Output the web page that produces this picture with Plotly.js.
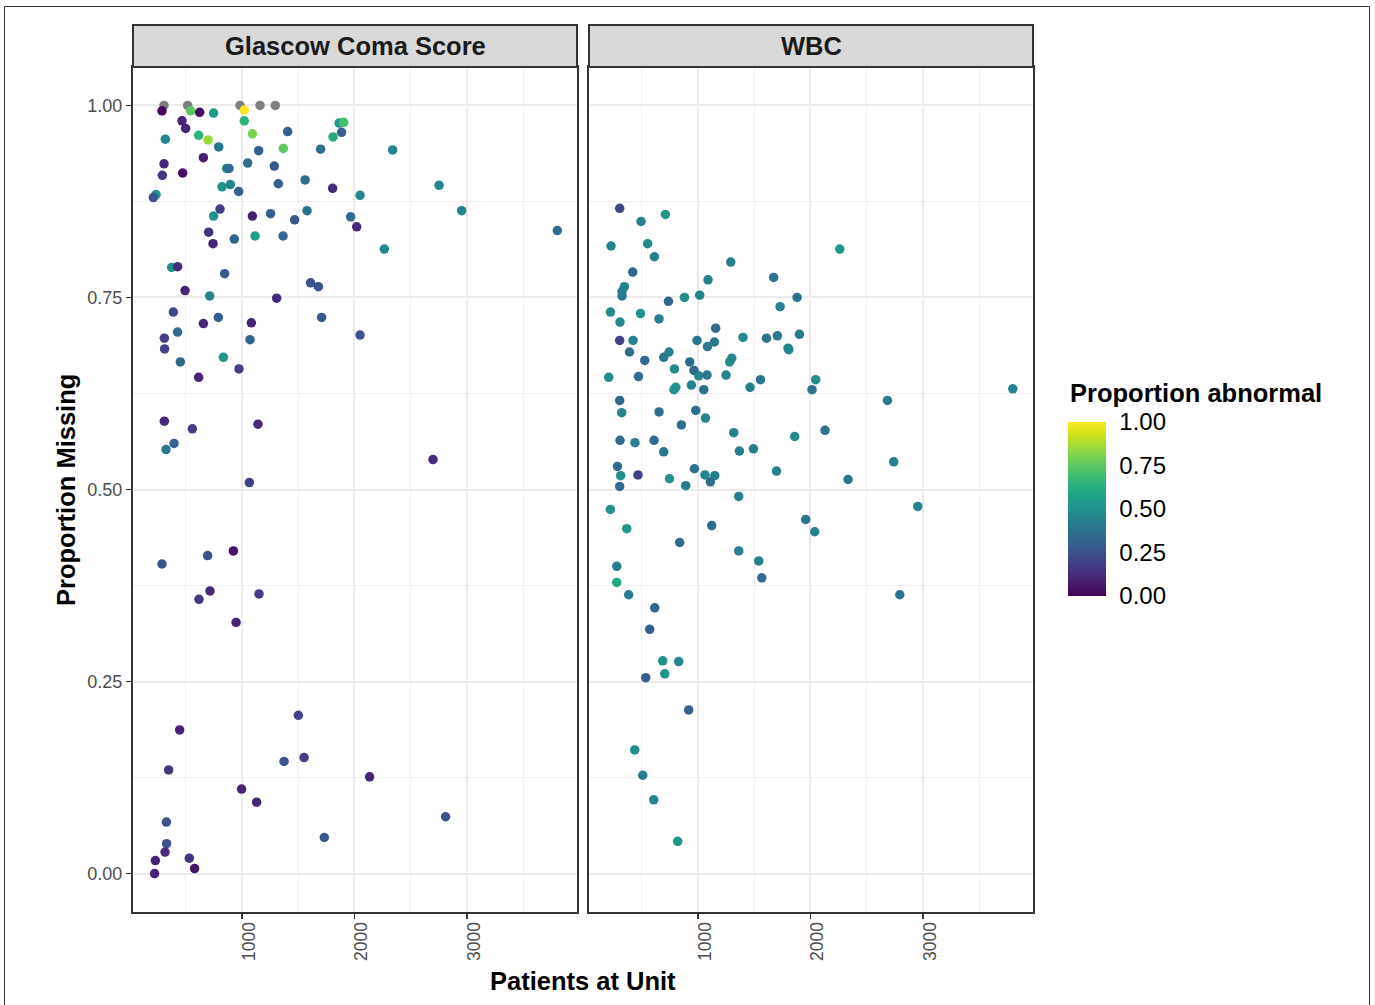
<!DOCTYPE html>
<html>
<head>
<meta charset="utf-8">
<script src="https://cdn.plot.ly/plotly-3.0.1.min.js"></script>
<style>html,body{margin:0;padding:0;background:#fff;}#chart{width:1375px;height:1005px;}</style>
</head>
<body>
<div id="chart"></div>
<script>
// Facet labels
const facetLabels = ["Glascow Coma Score", "WBC"];

// Glascow Coma Score: patients at unit, proportion missing, proportion abnormal
const gcsX = [288,543,623,747,1020,1020,466,498,614,698,1092,1406,318,792,1148,1367,1699,1863,1904,1886,1810,656,306,291,472,1050,1287,863,884,822,896,970,1323,1561,1806,2050,235,211,804,747,1092,1254,1468,1578,703,742,931,1116,1365,374,427,845,1610,1679,2340,2753,2954,1966,2020,2266,3805,493,712,1308,389,789,1708,656,1083,427,309,311,1071,2050,451,834,973,614,309,558,1142,395,324,1065,2699,288,694,923,715,617,1151,947,1501,445,347,1374,1552,996,1130,327,1732,329,315,531,229,222,578,2135,2811];
const gcsY = [0.993,0.993,0.991,0.990,0.994,0.980,0.980,0.970,0.961,0.955,0.963,0.966,0.956,0.946,0.941,0.944,0.943,0.977,0.978,0.965,0.959,0.932,0.924,0.909,0.912,0.925,0.921,0.918,0.918,0.894,0.897,0.888,0.898,0.903,0.892,0.883,0.884,0.880,0.865,0.856,0.856,0.859,0.851,0.863,0.835,0.820,0.826,0.830,0.830,0.789,0.790,0.781,0.769,0.764,0.942,0.896,0.863,0.855,0.842,0.813,0.837,0.759,0.752,0.749,0.731,0.724,0.724,0.716,0.717,0.705,0.697,0.683,0.695,0.701,0.666,0.672,0.657,0.646,0.589,0.579,0.585,0.560,0.552,0.509,0.539,0.403,0.414,0.420,0.368,0.357,0.364,0.327,0.206,0.187,0.135,0.146,0.151,0.110,0.093,0.067,0.047,0.039,0.028,0.020,0.017,0.000,0.0065,0.126,0.074];
const gcsC = [0.02,0.75,0.03,0.55,1.0,0.65,0.10,0.10,0.65,0.85,0.80,0.30,0.45,0.40,0.30,0.75,0.35,0.55,0.70,0.30,0.60,0.08,0.12,0.15,0.03,0.35,0.28,0.45,0.35,0.50,0.45,0.30,0.30,0.35,0.12,0.45,0.50,0.25,0.18,0.50,0.08,0.30,0.25,0.38,0.15,0.10,0.33,0.55,0.33,0.50,0.12,0.28,0.25,0.25,0.45,0.45,0.45,0.35,0.12,0.45,0.35,0.10,0.45,0.12,0.22,0.30,0.28,0.10,0.10,0.35,0.18,0.20,0.33,0.25,0.33,0.52,0.18,0.10,0.12,0.18,0.12,0.30,0.40,0.20,0.12,0.25,0.25,0.05,0.12,0.15,0.18,0.10,0.20,0.10,0.15,0.27,0.18,0.10,0.10,0.25,0.28,0.25,0.12,0.15,0.10,0.10,0.05,0.10,0.25];
// Glascow Coma Score units with no abnormal value available (NA colour)
const gcsNaX = [306,516,982,1160,1296];
const gcsNaY = [1.0,1.0,1.0,1.0,1.0];

// WBC
const wbcX = [303,493,710,226,552,612,1291,2261,419,1089,1673,345,324,324,737,879,1015,1881,1730,221,306,488,653,1157,303,422,991,1084,1146,1400,1609,1706,1902,1801,1807,390,526,695,742,790,926,964,1006,1080,1249,1282,1300,206,470,786,802,941,1051,1463,1555,2047,2014,2685,303,321,653,980,1066,852,1318,1860,2130,306,439,609,695,1368,1493,283,312,466,746,968,891,1062,1149,1110,1698,2335,303,1362,3800,2741,2955,1958,2038,2795,220,366,277,277,383,615,570,837,686,828,704,535,917,437,508,606,819,1122,1362,1540,1567];
const wbcY = [0.866,0.849,0.858,0.817,0.820,0.803,0.796,0.813,0.783,0.773,0.776,0.764,0.758,0.752,0.745,0.750,0.753,0.750,0.738,0.731,0.718,0.729,0.722,0.710,0.694,0.694,0.694,0.686,0.692,0.698,0.697,0.700,0.702,0.684,0.682,0.679,0.668,0.672,0.679,0.657,0.666,0.655,0.648,0.649,0.649,0.666,0.671,0.646,0.647,0.630,0.633,0.636,0.630,0.633,0.643,0.643,0.630,0.616,0.616,0.600,0.601,0.603,0.593,0.584,0.574,0.569,0.577,0.564,0.561,0.564,0.549,0.550,0.553,0.530,0.518,0.519,0.514,0.527,0.505,0.519,0.518,0.510,0.524,0.513,0.504,0.491,0.631,0.536,0.478,0.461,0.445,0.363,0.474,0.449,0.400,0.379,0.363,0.346,0.318,0.431,0.277,0.276,0.260,0.255,0.213,0.161,0.128,0.096,0.042,0.453,0.420,0.407,0.385];
const wbcC = [0.20,0.42,0.52,0.45,0.47,0.42,0.42,0.53,0.33,0.43,0.38,0.45,0.42,0.40,0.33,0.48,0.45,0.38,0.42,0.47,0.47,0.50,0.42,0.35,0.20,0.43,0.40,0.40,0.40,0.47,0.38,0.40,0.40,0.45,0.45,0.35,0.33,0.40,0.43,0.47,0.35,0.33,0.45,0.40,0.45,0.47,0.47,0.47,0.35,0.50,0.50,0.45,0.37,0.43,0.38,0.47,0.38,0.42,0.33,0.45,0.37,0.37,0.45,0.37,0.43,0.48,0.38,0.35,0.43,0.35,0.40,0.42,0.42,0.35,0.50,0.20,0.50,0.37,0.42,0.45,0.43,0.35,0.43,0.40,0.35,0.42,0.43,0.43,0.45,0.38,0.42,0.38,0.50,0.52,0.42,0.60,0.42,0.33,0.30,0.35,0.50,0.45,0.50,0.30,0.30,0.48,0.42,0.45,0.52,0.35,0.42,0.43,0.35];

// Axis ticks
const yTickVals = [0, 0.25, 0.5, 0.75, 1.0];
const yTickText = ["0.00", "0.25", "0.50", "0.75", "1.00"];
const xTickVals = [1000, 2000, 3000];
const xTickText = ["1000", "2000", "3000"];
const cbTickVals = [0, 0.25, 0.5, 0.75, 1.0];
const cbTickText = ["0.00", "0.25", "0.50", "0.75", "1.00"];

const W = 1375, H = 1005;
const px = v => v / W;
const py = v => (H - v) / H;
const FONT = "Liberation Sans, Arial, Helvetica, sans-serif";

const markerBase = {
  size: 9.5,
  colorscale: "Viridis",
  cmin: 0, cmax: 1,
  line: {width: 0}
};

const traces = [
  {
    type: "scatter", mode: "markers", x: gcsNaX, y: gcsNaY, xaxis: "x", yaxis: "y",
    marker: {size: 9.5, color: "#7F7F7F", line: {width: 0}}, showlegend: false, hoverinfo: "x+y"
  },
  {
    type: "scatter", mode: "markers", x: gcsX, y: gcsY, xaxis: "x", yaxis: "y",
    marker: Object.assign({}, markerBase, {color: gcsC, showscale: true,
      colorbar: {
        thicknessmode: "pixels", thickness: 38,
        lenmode: "pixels", len: 174,
        x: px(1068), xanchor: "left", xpad: 0,
        y: py(509), yanchor: "middle", ypad: 0,
        outlinewidth: 0, borderwidth: 0,
        tickmode: "array", tickvals: cbTickVals, ticktext: cbTickText,
        ticks: "outside", ticklen: 9, tickcolor: "rgba(0,0,0,0)",
        tickfont: {family: FONT, size: 24, color: "#000000"},
        title: {text: ""}
      }}),
    showlegend: false
  },
  {
    type: "scatter", mode: "markers", x: wbcX, y: wbcY, xaxis: "x2", yaxis: "y2",
    marker: Object.assign({}, markerBase, {color: wbcC, showscale: false}),
    showlegend: false
  }
];

const xRange = [30, 3980];
const yRange = [-0.05, 1.05];
const gridMajor = "#EBEBEB";

function xAxis(domain, anchor) {
  return {
    domain: domain, anchor: anchor, range: xRange,
    tickmode: "array", tickvals: xTickVals, ticktext: xTickText,
    tickangle: -90, ticks: "outside", ticklen: 5, tickwidth: 1.5, tickcolor: "#333333",
    ticklabelshift: 7, ticklabelstandoff: -4,
    tickfont: {family: FONT, size: 17.5, color: "#4D4D4D"},
    showgrid: true, gridcolor: gridMajor, gridwidth: 2,
    minor: {tickmode: "array", tickvals: [500, 1500, 2500, 3500], showgrid: true, gridcolor: "#F0F0F0", gridwidth: 1, ticks: ""},
    showline: true, linecolor: "#333333", linewidth: 2, mirror: true,
    zeroline: false, fixedrange: true
  };
}
function yAxis(anchor, labels) {
  return {
    domain: [py(912), py(67)], anchor: anchor, range: yRange,
    tickmode: "array", tickvals: yTickVals, ticktext: yTickText,
    showticklabels: labels,
    ticks: labels ? "outside" : "", ticklen: 5, tickwidth: 1.5, tickcolor: "#333333",
    tickfont: {family: FONT, size: 18, color: "#4D4D4D"},
    showgrid: true, gridcolor: gridMajor, gridwidth: 2,
    minor: {tickmode: "array", tickvals: [0.125, 0.375, 0.625, 0.875], showgrid: true, gridcolor: "#F0F0F0", gridwidth: 1, ticks: ""},
    showline: true, linecolor: "#333333", linewidth: 2, mirror: true,
    zeroline: false, fixedrange: true
  };
}

const stripY0 = py(67), stripY1 = py(25);
const layout = {
  width: W, height: H,
  margin: {l: 0, r: 0, t: 0, b: 0},
  paper_bgcolor: "#FFFFFF", plot_bgcolor: "#FFFFFF",
  font: {family: FONT},
  xaxis: xAxis([px(133), px(577)], "y"),
  yaxis: yAxis("x", true),
  xaxis2: xAxis([px(589), px(1033)], "y2"),
  yaxis2: yAxis("x2", false),
  shapes: [
    {type: "rect", xref: "paper", yref: "paper", x0: px(4.5), x1: px(1369.5), y0: -0.01, y1: py(6.5),
     line: {color: "#333333", width: 1}, fillcolor: "rgba(0,0,0,0)", layer: "below"},
    {type: "rect", xref: "paper", yref: "paper", x0: px(133), x1: px(577), y0: stripY0, y1: stripY1,
     line: {color: "#333333", width: 2}, fillcolor: "#D9D9D9"},
    {type: "rect", xref: "paper", yref: "paper", x0: px(589), x1: px(1033), y0: stripY0, y1: stripY1,
     line: {color: "#333333", width: 2}, fillcolor: "#D9D9D9"}
  ],
  annotations: [
    {xref: "paper", yref: "paper", x: px(355), y: py(46.5), text: "<b>" + facetLabels[0] + "</b>", showarrow: false,
     xanchor: "center", yanchor: "middle", font: {family: FONT, size: 25.5, color: "#1A1A1A"}},
    {xref: "paper", yref: "paper", x: px(811), y: py(46.5), text: "<b>" + facetLabels[1] + "</b>", showarrow: false,
     xanchor: "center", yanchor: "middle", font: {family: FONT, size: 25.5, color: "#1A1A1A"}},
    {xref: "paper", yref: "paper", x: px(583), y: py(981), text: "<b>Patients at Unit</b>", showarrow: false,
     xanchor: "center", yanchor: "middle", font: {family: FONT, size: 25.5, color: "#000000"}},
    {xref: "paper", yref: "paper", x: px(66), y: py(490), text: "<b>Proportion Missing</b>", showarrow: false,
     textangle: -90, xanchor: "center", yanchor: "middle", font: {family: FONT, size: 25.5, color: "#000000"}},
    {xref: "paper", yref: "paper", x: px(1068), y: py(393), text: "<b>Proportion abnormal</b>", showarrow: false,
     xanchor: "left", yanchor: "middle", font: {family: FONT, size: 25.5, color: "#000000"}}
  ]
};

Plotly.newPlot("chart", traces, layout, {displayModeBar: false, staticPlot: true});
</script>
</body>
</html>
